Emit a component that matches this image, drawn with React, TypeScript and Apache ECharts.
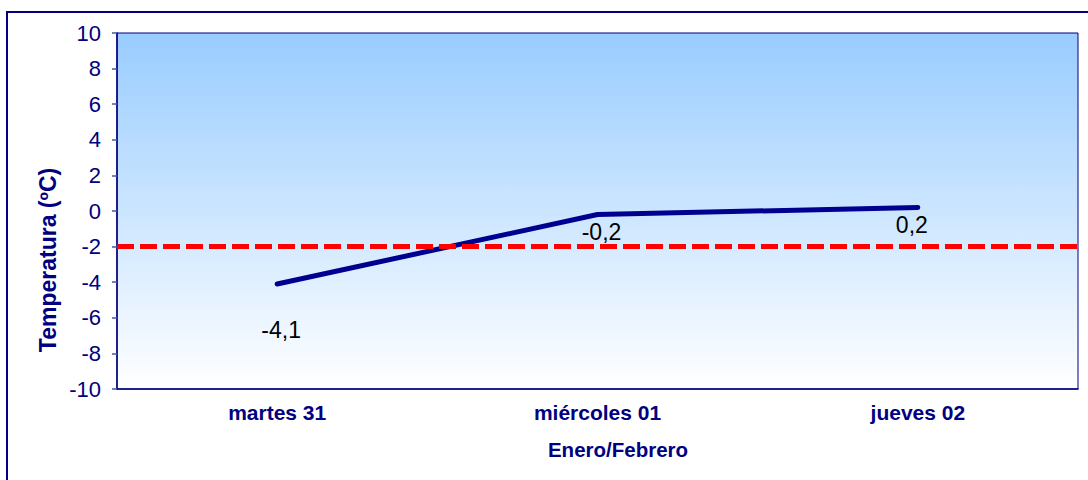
import React, { useEffect, useRef } from "react";
import * as echarts from "echarts";

const categories = ["martes 31", "miércoles 01", "jueves 02"];
const temperatures = [-4.1, -0.2, 0.2];
const thresholdValue = -2;
const yMin = -10;
const yMax = 10;
const yStep = 2;
const xAxisTitle = "Enero/Febrero";
const yAxisTitle = "Temperatura (ºC)";

// label offsets (style only)
const labelOffsets: [number, number][] = [
  [4, 46],
  [4, 17],
  [-6, 18],
];

const NAVY = "#000080";
const FONT = "'Liberation Sans', Arial, sans-serif";

export default function App() {
  const ref = useRef<HTMLDivElement>(null);
  useEffect(() => {
    if (!ref.current) return;
    const chart = echarts.init(ref.current, null, { renderer: "svg" });
    const data = temperatures.map((v, i) => ({
      value: v,
      label: { offset: labelOffsets[i] },
    }));
    chart.setOption({
      animation: false,
      backgroundColor: "#ffffff",
      grid: {
        left: 117,
        top: 33,
        right: 10,
        bottom: 91,
        show: true,
        borderColor: NAVY,
        borderWidth: 1,
        backgroundColor: new echarts.graphic.LinearGradient(0, 0, 0, 1, [
          { offset: 0, color: "#99CCFF" },
          { offset: 1, color: "#FFFFFF" },
        ]),
      },
      graphic: [
        {
          type: "rect",
          shape: { x: 7, y: 12, width: 1200, height: 600 },
          style: { fill: "none", stroke: NAVY, lineWidth: 2 },
          silent: true,
          z: 100,
        },
        {
          type: "text",
          x: 618,
          y: 449,
          style: {
            text: xAxisTitle,
            fill: NAVY,
            font: `bold 20.5px ${FONT}`,
            textAlign: "center",
            textVerticalAlign: "middle",
          },
        },
        {
          type: "text",
          x: 48,
          y: 260,
          rotation: Math.PI / 2,
          style: {
            text: yAxisTitle,
            fill: NAVY,
            font: `bold 23px ${FONT}`,
            textAlign: "center",
            textVerticalAlign: "middle",
          },
        },
      ],
      xAxis: {
        type: "category",
        data: categories,
        boundaryGap: true,
        axisLine: { show: true, onZero: false, lineStyle: { color: NAVY, width: 1.5 } },
        axisTick: { show: false },
        axisLabel: {
          color: NAVY,
          fontFamily: FONT,
          fontWeight: "bold",
          fontSize: 21,
          margin: 13,
        },
        splitLine: { show: false },
      },
      yAxis: {
        type: "value",
        min: yMin,
        max: yMax,
        interval: yStep,
        axisLine: { show: true, lineStyle: { color: NAVY, width: 1.5 } },
        axisTick: {
          show: true,
          inside: false,
          length: 5,
          lineStyle: { color: "#4455AA", width: 1.5 },
        },
        axisLabel: {
          color: NAVY,
          fontFamily: FONT,
          fontSize: 22,
          margin: 16,
        },
        splitLine: { show: false },
      },
      series: [
        {
          type: "line",
          data,
          symbol: "circle",
          symbolSize: 1,
          showSymbol: true,
          itemStyle: { color: "rgba(0,0,0,0)" },
          lineStyle: { color: "#000090", width: 5, cap: "round", join: "round" },
          label: {
            show: true,
            position: "inside",
            color: "#000000",
            fontFamily: FONT,
            fontSize: 23,
            formatter: (p: any) => String(p.value).replace(".", ","),
          },
          markLine: {
            silent: true,
            symbol: "none",
            label: { show: false },
            lineStyle: { color: "#FF0000", width: 5, type: [17, 6] },
            data: [{ yAxis: thresholdValue }],
          },
          z: 3,
        },
      ],
    });
    return () => chart.dispose();
  }, []);
  return (
    <div
      ref={ref}
      style={{ position: "absolute", left: 0, top: 0, width: 1088, height: 480 }}
    />
  );
}
